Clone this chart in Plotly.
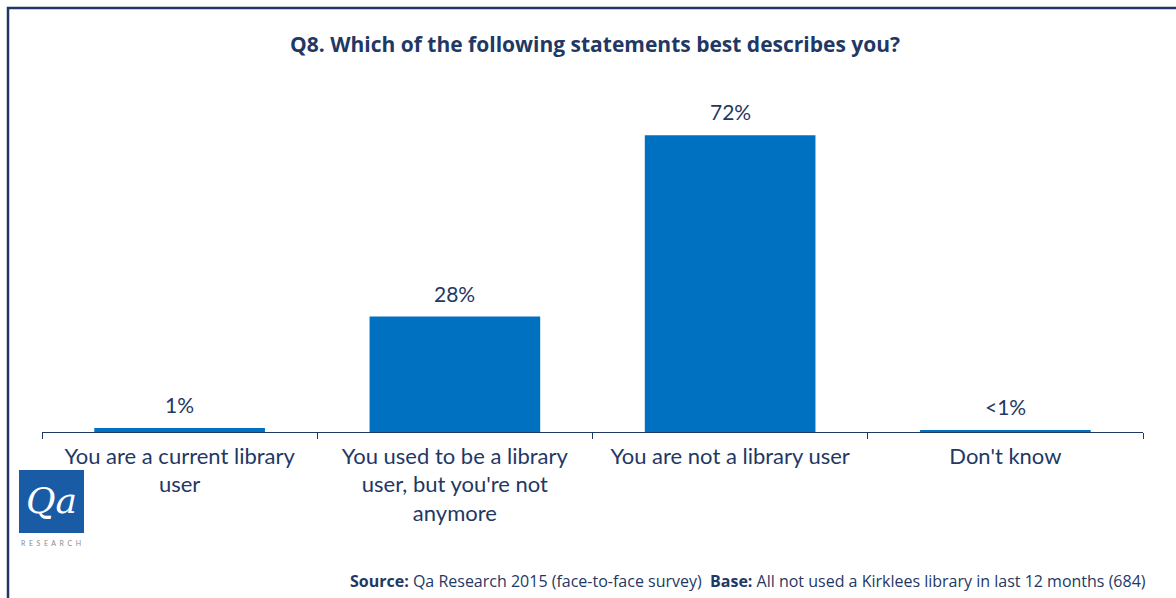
import plotly.graph_objects as go

# Survey answers (Q8) and share of respondents
categories = [
    "You are a current library<br>user",
    "You used to be a library<br>user, but you're not<br>anymore",
    "You are not a library user",
    "Don't know",
]
shares = [1, 28, 72, 0.4]
share_labels = ["1%", "28%", "72%", "<1%"]

NAVY = "#1F3864"
BAR_BLUE = "#0070C0"
FONT = "Lato, 'Open Sans', sans-serif"
WIDE = "'Open Sans', Lato, sans-serif"

W, H = 1176, 598
ML, MR, MT, MB = 42, 33, 70, 166

fig = go.Figure()
fig.add_trace(go.Bar(
    x=categories,
    y=shares,
    marker=dict(color=BAR_BLUE, line=dict(width=0)),
    width=0.62,
    hoverinfo="skip",
))

# value labels above each bar
for cat, val, lab in zip(categories, shares, share_labels):
    fig.add_annotation(
        x=cat, y=val, text=lab, showarrow=False,
        yanchor="bottom", yshift=9,
        font=dict(family=FONT, size=21, color=NAVY),
    )

pw, ph = W - ML - MR, H - MT - MB


def px_x(p):
    return (p - ML) / pw


def px_y(p):
    return (H - MB - p) / ph


shapes = [
    # outer frame
    dict(type="rect", xref="paper", yref="paper",
         x0=px_x(8), x1=px_x(1190), y0=px_y(8), y1=px_y(620),
         line=dict(color=NAVY, width=2.5), fillcolor="rgba(0,0,0,0)", layer="below"),
    # logo tile
    dict(type="rect", xref="paper", yref="paper",
         x0=px_x(19), x1=px_x(84), y0=px_y(470), y1=px_y(533),
         line=dict(width=0), fillcolor="#1A5BA6", layer="below"),
]

annotations = [
    dict(text="<b>Q8. Which of the following statements best describes you?</b>",
         xref="paper", yref="paper", x=px_x(595), y=px_y(44),
         xanchor="center", yanchor="middle", showarrow=False,
         font=dict(family=WIDE, size=21, color=NAVY)),
    dict(text="<i>Qa</i>", xref="paper", yref="paper",
         x=px_x(51), y=px_y(500), xanchor="center", yanchor="middle", showarrow=False,
         font=dict(family="DejaVu Serif, serif", size=36, color="white")),
    dict(text="R  E  S  E  A  R  C  H", xref="paper", yref="paper",
         x=px_x(51), y=px_y(543), xanchor="center", yanchor="middle", showarrow=False,
         font=dict(family=FONT, size=7, color="#8C8C8C")),
    dict(text="<b>Source:</b> Qa Research 2015 (face-to-face survey)  "
              "<b>Base:</b> All not used a Kirklees library in last 12 months (684)",
         xref="paper", yref="paper", x=px_x(1148), y=px_y(581),
         xanchor="right", yanchor="middle", showarrow=False,
         font=dict(family=WIDE, size=16, color=NAVY)),
]

fig.update_layout(
    width=W, height=H,
    margin=dict(l=ML, r=MR, t=MT, b=MB),
    paper_bgcolor="white", plot_bgcolor="white",
    showlegend=False,
    shapes=shapes,
    annotations=list(fig.layout.annotations) + annotations,
    font=dict(family=FONT, color=NAVY),
)
fig.update_xaxes(
    range=[-0.5, 3.5],
    showline=True, linecolor=NAVY, linewidth=1.2,
    ticks="outside", tickson="boundaries", ticklen=6, tickcolor=NAVY, tickwidth=1.2,
    tickfont=dict(family=FONT, size=22, color=NAVY),
    ticklabelstandoff=4,
    showgrid=False, zeroline=False,
)
fig.update_yaxes(
    range=[0, 87.8], visible=False, showgrid=False, zeroline=False,
)

fig.write_html("out.html")
